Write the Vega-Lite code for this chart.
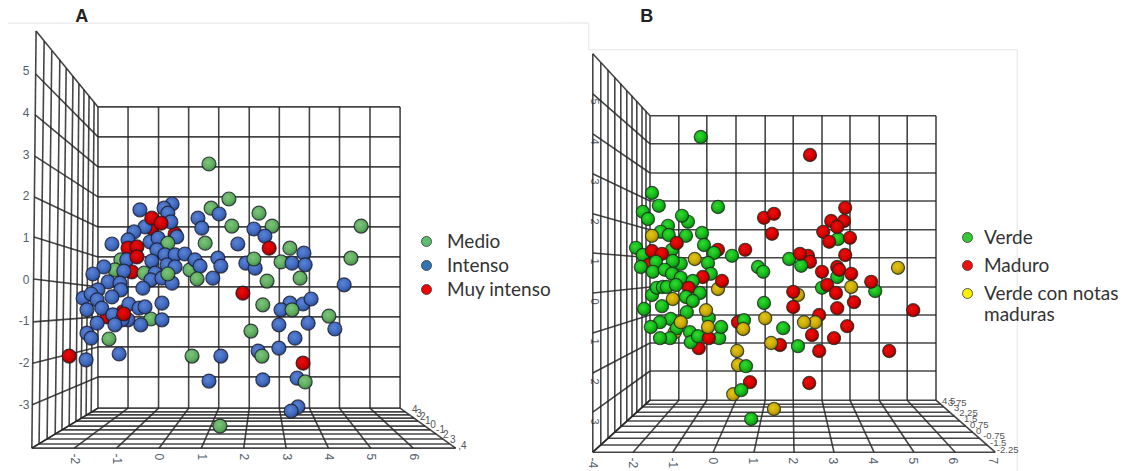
{
"$schema":"https://vega.github.io/schema/vega-lite/v6.json",
"padding":0,"spacing":0,"bounds":"flush",
"config":{"view":{"stroke":null},"background":"white"},
"resolve":{"scale":{"color":"independent","x":"independent","y":"independent"},"legend":{"color":"independent"}},
"datasets":{
"aFrame":[{"x":-3.56,"y":6.14,"x2":9.51,"y2":6.14}],
"bFrame":[{"x":-3.75,"y":6.95,"x2":-3.08,"y2":6.95},{"x":-3.08,"y":6.95,"x2":-3.08,"y2":6.28},{"x":-3.08,"y":6.28,"x2":7.63,"y2":6.28},{"x":7.63,"y":6.28,"x2":7.63,"y2":-4.25}],
"aGrid":[
{"x":-1.44,"y":4.13,"x2":-1.44,"y2":-3.10},{"x":-0.73,"y":4.13,"x2":-0.73,"y2":-3.10},{"x":-0.01,"y":4.13,"x2":-0.01,"y2":-3.10},{"x":0.70,"y":4.13,"x2":0.70,"y2":-3.10},{"x":1.41,"y":4.13,"x2":1.41,"y2":-3.10},{"x":2.13,"y":4.13,"x2":2.13,"y2":-3.10},{"x":2.84,"y":4.13,"x2":2.84,"y2":-3.10},{"x":3.55,"y":4.13,"x2":3.55,"y2":-3.10},{"x":4.26,"y":4.13,"x2":4.26,"y2":-3.10},{"x":4.98,"y":4.13,"x2":4.98,"y2":-3.10},{"x":5.69,"y":4.13,"x2":5.69,"y2":-3.10},
{"x":-1.44,"y":4.13,"x2":5.69,"y2":4.13},{"x":-1.44,"y":3.41,"x2":5.69,"y2":3.41},{"x":-1.44,"y":2.69,"x2":5.69,"y2":2.69},{"x":-1.44,"y":1.97,"x2":5.69,"y2":1.97},{"x":-1.44,"y":1.25,"x2":5.69,"y2":1.25},{"x":-1.44,"y":0.53,"x2":5.69,"y2":0.53},{"x":-1.44,"y":-0.19,"x2":5.69,"y2":-0.19},{"x":-1.44,"y":-0.91,"x2":5.69,"y2":-0.91},{"x":-1.44,"y":-1.63,"x2":5.69,"y2":-1.63},{"x":-1.44,"y":-2.35,"x2":5.69,"y2":-2.35},{"x":-1.44,"y":-3.10,"x2":5.69,"y2":-3.10},
{"x":-2.90,"y":5.95,"x2":-1.44,"y2":4.13},{"x":-2.91,"y":4.92,"x2":-1.44,"y2":3.41},{"x":-2.92,"y":3.94,"x2":-1.44,"y2":2.69},{"x":-2.93,"y":2.95,"x2":-1.44,"y2":1.97},{"x":-2.94,"y":1.97,"x2":-1.44,"y2":1.25},{"x":-2.95,"y":1.01,"x2":-1.44,"y2":0.53},{"x":-2.96,"y":0,"x2":-1.44,"y2":-0.19},{"x":-2.97,"y":-1.03,"x2":-1.44,"y2":-0.91},{"x":-2.98,"y":-2.02,"x2":-1.44,"y2":-1.63},{"x":-2.99,"y":-3.02,"x2":-1.44,"y2":-2.35},{"x":-3.0,"y":-4.06,"x2":-1.44,"y2":-3.10},
{"x":-2.90,"y":5.95,"x2":-3.0,"y2":-4.06},{"x":-2.71,"y":5.71,"x2":-2.83,"y2":-3.96},{"x":-2.53,"y":5.47,"x2":-2.64,"y2":-3.84},{"x":-2.34,"y":5.26,"x2":-2.45,"y2":-3.72},{"x":-2.19,"y":5.06,"x2":-2.29,"y2":-3.62},{"x":-2.03,"y":4.87,"x2":-2.12,"y2":-3.53},{"x":-1.89,"y":4.68,"x2":-1.96,"y2":-3.41},{"x":-1.77,"y":4.54,"x2":-1.84,"y2":-3.34},{"x":-1.65,"y":4.39,"x2":-1.72,"y2":-3.26},{"x":-1.53,"y":4.25,"x2":-1.60,"y2":-3.19},
{"x":-3,"y":-4.06,"x2":-1.44,"y2":-3.10},{"x":-2,"y":-4.06,"x2":-0.73,"y2":-3.10},{"x":-1,"y":-4.06,"x2":-0.01,"y2":-3.10},{"x":0,"y":-4.06,"x2":0.70,"y2":-3.10},{"x":1,"y":-4.06,"x2":1.41,"y2":-3.10},{"x":2,"y":-4.06,"x2":2.13,"y2":-3.10},{"x":3,"y":-4.06,"x2":2.84,"y2":-3.10},{"x":4,"y":-4.06,"x2":3.55,"y2":-3.10},{"x":5,"y":-4.06,"x2":4.26,"y2":-3.10},{"x":6,"y":-4.06,"x2":4.98,"y2":-3.10},{"x":7,"y":-4.06,"x2":5.69,"y2":-3.10},
{"x":-3.0,"y":-4.06,"x2":7,"y2":-4.06},{"x":-2.83,"y":-3.96,"x2":6.86,"y2":-3.96},{"x":-2.64,"y":-3.84,"x2":6.70,"y2":-3.84},{"x":-2.45,"y":-3.72,"x2":6.54,"y2":-3.72},{"x":-2.29,"y":-3.62,"x2":6.40,"y2":-3.62},{"x":-2.12,"y":-3.53,"x2":6.28,"y2":-3.53},{"x":-1.96,"y":-3.41,"x2":6.11,"y2":-3.41},{"x":-1.84,"y":-3.34,"x2":6.02,"y2":-3.34},{"x":-1.72,"y":-3.26,"x2":5.91,"y2":-3.26},{"x":-1.60,"y":-3.19,"x2":5.81,"y2":-3.19}
],
"bGrid":[
{"x":-1.55,"y":4.63,"x2":-1.55,"y2":-2.48},{"x":-0.83,"y":4.63,"x2":-0.83,"y2":-2.48},{"x":-0.13,"y":4.63,"x2":-0.13,"y2":-2.48},{"x":0.60,"y":4.63,"x2":0.60,"y2":-2.48},{"x":1.33,"y":4.63,"x2":1.33,"y2":-2.48},{"x":2.03,"y":4.63,"x2":2.03,"y2":-2.48},{"x":2.75,"y":4.63,"x2":2.75,"y2":-2.48},{"x":3.45,"y":4.63,"x2":3.45,"y2":-2.48},{"x":4.18,"y":4.63,"x2":4.18,"y2":-2.48},{"x":4.88,"y":4.63,"x2":4.88,"y2":-2.48},{"x":5.60,"y":4.63,"x2":5.60,"y2":-2.48},
{"x":-1.55,"y":4.63,"x2":5.60,"y2":4.63},{"x":-1.55,"y":3.93,"x2":5.60,"y2":3.93},{"x":-1.55,"y":3.20,"x2":5.60,"y2":3.20},{"x":-1.55,"y":2.50,"x2":5.60,"y2":2.50},{"x":-1.55,"y":1.78,"x2":5.60,"y2":1.78},{"x":-1.55,"y":1.08,"x2":5.60,"y2":1.08},{"x":-1.55,"y":0.35,"x2":5.60,"y2":0.35},{"x":-1.55,"y":-0.35,"x2":5.60,"y2":-0.35},{"x":-1.55,"y":-1.05,"x2":5.60,"y2":-1.05},{"x":-1.55,"y":-1.75,"x2":5.60,"y2":-1.75},{"x":-1.55,"y":-2.48,"x2":5.60,"y2":-2.48},
{"x":-2.98,"y":6.18,"x2":-1.55,"y2":4.63},{"x":-2.98,"y":5.18,"x2":-1.55,"y2":3.93},{"x":-2.98,"y":4.18,"x2":-1.55,"y2":3.20},{"x":-2.98,"y":3.18,"x2":-1.55,"y2":2.50},{"x":-2.98,"y":2.18,"x2":-1.55,"y2":1.78},{"x":-2.98,"y":1.20,"x2":-1.55,"y2":1.08},{"x":-2.98,"y":0.20,"x2":-1.55,"y2":0.35},{"x":-2.98,"y":-0.80,"x2":-1.55,"y2":-0.35},{"x":-2.98,"y":-1.80,"x2":-1.55,"y2":-1.05},{"x":-2.98,"y":-2.78,"x2":-1.55,"y2":-1.75},{"x":-2.98,"y":-3.78,"x2":-1.55,"y2":-2.48},
{"x":-2.98,"y":6.18,"x2":-2.98,"y2":-3.78},{"x":-2.78,"y":5.95,"x2":-2.78,"y2":-3.60},{"x":-2.60,"y":5.78,"x2":-2.60,"y2":-3.43},{"x":-2.43,"y":5.58,"x2":-2.43,"y2":-3.28},{"x":-2.28,"y":5.43,"x2":-2.28,"y2":-3.13},{"x":-2.13,"y":5.25,"x2":-2.13,"y2":-3.00},{"x":-2.00,"y":5.13,"x2":-2.00,"y2":-2.88},{"x":-1.88,"y":5.00,"x2":-1.88,"y2":-2.78},{"x":-1.75,"y":4.85,"x2":-1.75,"y2":-2.65},{"x":-1.65,"y":4.75,"x2":-1.65,"y2":-2.58},
{"x":-2.98,"y":-3.78,"x2":-1.55,"y2":-2.48},{"x":-1.97,"y":-3.78,"x2":-0.83,"y2":-2.48},{"x":-0.98,"y":-3.78,"x2":-0.13,"y2":-2.48},{"x":0.03,"y":-3.78,"x2":0.60,"y2":-2.48},{"x":1.05,"y":-3.78,"x2":1.33,"y2":-2.48},{"x":2.05,"y":-3.78,"x2":2.03,"y2":-2.48},{"x":3.05,"y":-3.78,"x2":2.75,"y2":-2.48},{"x":4.05,"y":-3.78,"x2":3.45,"y2":-2.48},{"x":5.05,"y":-3.78,"x2":4.18,"y2":-2.48},{"x":6.08,"y":-3.78,"x2":4.88,"y2":-2.48},{"x":7.08,"y":-3.78,"x2":5.60,"y2":-2.48},
{"x":-2.98,"y":-3.78,"x2":7.08,"y2":-3.78},{"x":-2.78,"y":-3.60,"x2":6.88,"y2":-3.60},{"x":-2.60,"y":-3.43,"x2":6.68,"y2":-3.43},{"x":-2.43,"y":-3.28,"x2":6.51,"y2":-3.28},{"x":-2.28,"y":-3.13,"x2":6.34,"y2":-3.13},{"x":-2.13,"y":-3.00,"x2":6.19,"y2":-3.00},{"x":-2.00,"y":-2.88,"x2":6.06,"y2":-2.88},{"x":-1.88,"y":-2.78,"x2":5.94,"y2":-2.78},{"x":-1.75,"y":-2.65,"x2":5.79,"y2":-2.65},{"x":-1.65,"y":-2.58,"x2":5.71,"y2":-2.58}
],
"aDepth":[{"x":5.97,"y":-3.14,"t":"4"},{"x":6.07,"y":-3.24,"t":"3"},{"x":6.16,"y":-3.31,"t":"2"},{"x":6.28,"y":-3.41,"t":"1"},{"x":6.40,"y":-3.50,"t":"0"},{"x":6.54,"y":-3.62,"t":"-1"},{"x":6.70,"y":-3.74,"t":"2"},{"x":6.87,"y":-3.86,"t":"3"},{"x":7.06,"y":-4.01,"t":",4"}],
"bDepth":[{"x":5.75,"y":-2.50,"t":"4.5"},{"x":5.90,"y":-2.55,"t":"3.75"},{"x":6.05,"y":-2.68,"t":"3"},{"x":6.18,"y":-2.80,"t":"2.25"},{"x":6.30,"y":-2.95,"t":"1.5"},{"x":6.45,"y":-3.10,"t":"0.75"},{"x":6.60,"y":-3.25,"t":"0"},{"x":6.78,"y":-3.38,"t":"-0.75"},{"x":6.95,"y":-3.55,"t":"-1.5"},{"x":7.12,"y":-3.72,"t":"-2.25"}],
"aLetter":[{"x":-1.82,"y":6.29,"t":"A"}],
"bLetter":[{"x":-1.63,"y":7.10,"t":"B"}],
"aPoints":[
{"x":-0.90,"y":0.46,"s":"Medio"},{"x":-1.04,"y":0.22,"s":"Medio"},{"x":-0.64,"y":0.17,"s":"Muy intenso"},{"x":-1.23,"y":-0.91,"s":"Muy intenso"},{"x":-0.85,"y":-0.79,"s":"Muy intenso"},{"x":0.38,"y":1.08,"s":"Muy intenso"},{"x":-0.17,"y":1.22,"s":"Muy intenso"},{"x":0.73,"y":0.22,"s":"Medio"},{"x":-1.18,"y":-1.44,"s":"Medio"},{"x":-0.19,"y":-0.96,"s":"Medio"},
{"x":-0.45,"y":1.66,"s":"Intenso"},{"x":0.31,"y":1.80,"s":"Intenso"},{"x":0.12,"y":1.70,"s":"Intenso"},{"x":0.21,"y":1.58,"s":"Intenso"},{"x":0.28,"y":1.37,"s":"Intenso"},{"x":-0.33,"y":1.25,"s":"Intenso"},{"x":-0.17,"y":1.46,"s":"Muy intenso"},{"x":0.05,"y":1.34,"s":"Muy intenso"},{"x":-0.59,"y":1.13,"s":"Intenso"},{"x":-0.21,"y":0.89,"s":"Intenso"},{"x":-0.73,"y":0.94,"s":"Intenso"},{"x":-1.11,"y":0.84,"s":"Intenso"},{"x":-0.02,"y":0.98,"s":"Intenso"},{"x":0.42,"y":1.01,"s":"Intenso"},{"x":0.21,"y":0.86,"s":"Medio"},{"x":-0.73,"y":0.74,"s":"Muy intenso"},{"x":-0.52,"y":0.77,"s":"Muy intenso"},{"x":-0.05,"y":0.70,"s":"Intenso"},{"x":0.14,"y":0.58,"s":"Intenso"},{"x":0.38,"y":0.58,"s":"Intenso"},{"x":-0.76,"y":0.46,"s":"Intenso"},{"x":-0.52,"y":0.53,"s":"Muy intenso"},{"x":-0.17,"y":0.43,"s":"Intenso"},{"x":0.19,"y":0.34,"s":"Intenso"},{"x":0.38,"y":0.29,"s":"Intenso"},{"x":0.61,"y":0.60,"s":"Intenso"},{"x":0.85,"y":0.46,"s":"Intenso"},{"x":0.97,"y":0.31,"s":"Intenso"},{"x":1.39,"y":0.50,"s":"Intenso"},{"x":1.46,"y":0.31,"s":"Intenso"},{"x":0.90,"y":0,"s":"Medio"},{"x":1.27,"y":0.02,"s":"Intenso"},{"x":-1.30,"y":0.29,"s":"Intenso"},{"x":-1.56,"y":0.12,"s":"Intenso"},{"x":-0.83,"y":0.19,"s":"Intenso"},{"x":-1.20,"y":-0.07,"s":"Intenso"},{"x":-0.92,"y":-0.10,"s":"Intenso"},{"x":-0.90,"y":-0.26,"s":"Intenso"},{"x":-0.35,"y":0.14,"s":"Medio"},{"x":-0.09,"y":0.14,"s":"Intenso"},{"x":-0.19,"y":-0.02,"s":"Intenso"},{"x":-0.38,"y":-0.22,"s":"Intenso"},{"x":0.07,"y":0.02,"s":"Intenso"},{"x":0.31,"y":-0.10,"s":"Intenso"},{"x":0.21,"y":0.12,"s":"Medio"},{"x":-1.44,"y":-0.26,"s":"Intenso"},{"x":-1.79,"y":-0.46,"s":"Intenso"},{"x":-1.60,"y":-0.36,"s":"Intenso"},{"x":-1.46,"y":-0.50,"s":"Intenso"},{"x":-1.11,"y":-0.43,"s":"Intenso"},{"x":-1.70,"y":-0.74,"s":"Intenso"},{"x":-1.35,"y":-0.70,"s":"Intenso"},{"x":-0.71,"y":-0.60,"s":"Intenso"},{"x":-0.47,"y":-0.70,"s":"Intenso"},{"x":-0.33,"y":-0.67,"s":"Intenso"},{"x":0.07,"y":-0.58,"s":"Intenso"},{"x":-1.09,"y":-0.86,"s":"Intenso"},{"x":-0.73,"y":-0.98,"s":"Intenso"},{"x":-0.87,"y":-0.98,"s":"Intenso"},{"x":-0.83,"y":-0.84,"s":"Muy intenso"},{"x":-1.04,"y":-1.10,"s":"Intenso"},{"x":-1.46,"y":-1.06,"s":"Intenso"},{"x":-1.70,"y":-1.30,"s":"Intenso"},{"x":-1.60,"y":-1.42,"s":"Intenso"},{"x":-0.43,"y":-1.10,"s":"Intenso"},{"x":0.07,"y":-0.98,"s":"Intenso"},{"x":-2.12,"y":-1.85,"s":"Muy intenso"},{"x":-1.72,"y":-1.94,"s":"Intenso"},{"x":-0.94,"y":-1.80,"s":"Intenso"},{"x":0.78,"y":-1.85,"s":"Medio"},{"x":1.46,"y":-1.85,"s":"Intenso"},{"x":1.18,"y":-2.45,"s":"Intenso"},{"x":1.44,"y":-3.53,"s":"Medio"},
{"x":1.18,"y":2.76,"s":"Medio"},{"x":1.65,"y":1.92,"s":"Medio"},{"x":1.23,"y":1.70,"s":"Medio"},{"x":1.42,"y":1.56,"s":"Intenso"},{"x":2.36,"y":1.58,"s":"Medio"},{"x":1.72,"y":1.27,"s":"Medio"},{"x":0.92,"y":1.46,"s":"Intenso"},{"x":1.01,"y":1.22,"s":"Intenso"},{"x":2.24,"y":1.20,"s":"Intenso"},{"x":2.67,"y":1.27,"s":"Medio"},{"x":2.50,"y":1.03,"s":"Intenso"},{"x":1.09,"y":0.86,"s":"Medio"},{"x":1.86,"y":0.84,"s":"Intenso"},{"x":2.60,"y":0.74,"s":"Muy intenso"},{"x":3.09,"y":0.74,"s":"Medio"},{"x":2.05,"y":0.38,"s":"Intenso"},{"x":2.27,"y":0.26,"s":"Intenso"},{"x":2.24,"y":0.48,"s":"Medio"},{"x":2.88,"y":0.41,"s":"Medio"},{"x":3.14,"y":0.38,"s":"Intenso"},{"x":3.42,"y":0.62,"s":"Intenso"},{"x":3.45,"y":0.34,"s":"Intenso"},{"x":3.33,"y":0.02,"s":"Medio"},{"x":2.55,"y":-0.05,"s":"Medio"},{"x":1.98,"y":-0.34,"s":"Muy intenso"},{"x":2.45,"y":-0.62,"s":"Medio"},{"x":3.09,"y":-0.58,"s":"Intenso"},{"x":3.40,"y":-0.60,"s":"Intenso"},{"x":3.59,"y":-0.48,"s":"Intenso"},{"x":2.88,"y":-0.74,"s":"Intenso"},{"x":3.14,"y":-0.74,"s":"Medio"},{"x":2.83,"y":-1.10,"s":"Intenso"},{"x":3.52,"y":-1.06,"s":"Intenso"},{"x":2.17,"y":-1.25,"s":"Medio"},{"x":3.21,"y":-1.42,"s":"Intenso"},{"x":2.83,"y":-1.66,"s":"Intenso"},{"x":2.34,"y":-1.73,"s":"Intenso"},{"x":2.43,"y":-1.85,"s":"Medio"},{"x":3.40,"y":-2.02,"s":"Muy intenso"},{"x":2.45,"y":-2.42,"s":"Intenso"},{"x":3.26,"y":-2.38,"s":"Intenso"},{"x":3.45,"y":-2.47,"s":"Medio"},{"x":3.28,"y":-3.07,"s":"Intenso"},{"x":3.12,"y":-3.17,"s":"Intenso"},{"x":4.77,"y":1.27,"s":"Medio"},{"x":4.53,"y":0.50,"s":"Medio"},{"x":4.37,"y":-0.14,"s":"Intenso"},{"x":4.01,"y":-0.89,"s":"Medio"},{"x":4.15,"y":-1.20,"s":"Intenso"}
],
"bPoints":[
{"x":-0.28,"y":4.10,"s":"Verde"},{"x":2.45,"y":3.65,"s":"Maduro"},{"x":-1.50,"y":2.70,"s":"Verde"},{"x":-1.33,"y":2.38,"s":"Verde"},{"x":0.15,"y":2.35,"s":"Verde"},{"x":-1.73,"y":2.23,"s":"Verde"},{"x":-1.60,"y":2.05,"s":"Verde"},{"x":-0.60,"y":1.98,"s":"Verde"},{"x":-0.75,"y":2.13,"s":"Verde"},{"x":-1.10,"y":1.88,"s":"Verde"},{"x":-1.28,"y":1.73,"s":"Verde"},{"x":-1.50,"y":1.63,"s":"Verde con notas maduras"},{"x":-1.08,"y":1.65,"s":"Verde"},{"x":-0.65,"y":1.63,"s":"Verde"},{"x":-0.25,"y":1.70,"s":"Verde"},{"x":-0.20,"y":1.40,"s":"Verde"},{"x":-1.00,"y":1.28,"s":"Verde"},{"x":-0.88,"y":1.45,"s":"Maduro"},{"x":0.15,"y":1.28,"s":"Maduro"},{"x":0.05,"y":1.20,"s":"Verde"},{"x":0.50,"y":1.13,"s":"Verde"},{"x":0.83,"y":1.28,"s":"Maduro"},{"x":-0.10,"y":0.95,"s":"Verde"},{"x":-0.43,"y":1.05,"s":"Verde con notas maduras"},{"x":-1.90,"y":1.33,"s":"Verde"},{"x":-1.73,"y":1.15,"s":"Verde"},{"x":-1.58,"y":0.90,"s":"Maduro"},{"x":-1.78,"y":0.85,"s":"Verde"},{"x":-1.50,"y":1.25,"s":"Maduro"},{"x":-1.25,"y":1.18,"s":"Maduro"},{"x":-1.40,"y":0.98,"s":"Verde"},{"x":-0.78,"y":0.93,"s":"Verde"},{"x":-0.98,"y":1.00,"s":"Verde"},{"x":-1.48,"y":0.73,"s":"Verde"},{"x":-1.18,"y":0.78,"s":"Verde"},{"x":-1.00,"y":0.68,"s":"Verde"},{"x":-0.03,"y":0.68,"s":"Verde"},{"x":-0.23,"y":0.60,"s":"Maduro"},{"x":0.15,"y":0.30,"s":"Verde con notas maduras"},{"x":0.25,"y":0.50,"s":"Maduro"},{"x":-0.78,"y":0.58,"s":"Verde"},{"x":-0.48,"y":0.50,"s":"Verde"},{"x":-0.58,"y":0.33,"s":"Maduro"},{"x":-1.50,"y":0.15,"s":"Verde"},{"x":-1.38,"y":0.33,"s":"Verde"},{"x":-1.23,"y":0.35,"s":"Verde"},{"x":-1.13,"y":0.35,"s":"Verde"},{"x":-0.90,"y":0.40,"s":"Verde"},{"x":-0.65,"y":0.10,"s":"Verde"},{"x":-0.30,"y":0.20,"s":"Verde"},{"x":-0.48,"y":0,"s":"Verde"},{"x":-0.98,"y":0.05,"s":"Verde con notas maduras"},{"x":-1.25,"y":-0.13,"s":"Verde"},{"x":-1.70,"y":-0.20,"s":"Verde"},{"x":-0.63,"y":-0.28,"s":"Verde"},{"x":-0.08,"y":-0.43,"s":"Verde"},{"x":-0.15,"y":-0.23,"s":"Verde con notas maduras"},{"x":-1.03,"y":-0.45,"s":"Verde"},{"x":-1.30,"y":-0.53,"s":"Verde"},{"x":-1.53,"y":-0.65,"s":"Verde"},{"x":-0.93,"y":-0.78,"s":"Verde con notas maduras"},{"x":-0.88,"y":-0.68,"s":"Verde"},{"x":-0.78,"y":-0.53,"s":"Verde con notas maduras"},{"x":-1.05,"y":-0.93,"s":"Verde"},{"x":-1.30,"y":-0.93,"s":"Verde"},{"x":-0.33,"y":-1.18,"s":"Maduro"},{"x":-0.55,"y":-0.78,"s":"Verde"},{"x":-0.53,"y":-1.03,"s":"Verde"},{"x":-0.35,"y":-0.88,"s":"Verde"},{"x":0.18,"y":-0.93,"s":"Verde"},{"x":0.23,"y":-0.65,"s":"Verde"},{"x":-0.08,"y":-0.93,"s":"Maduro"},{"x":-0.10,"y":-0.65,"s":"Verde con notas maduras"},{"x":0.65,"y":-0.53,"s":"Maduro"},{"x":0.80,"y":-0.48,"s":"Verde"},{"x":0.78,"y":-0.70,"s":"Verde con notas maduras"},{"x":1.15,"y":0.85,"s":"Verde"},{"x":1.28,"y":0.73,"s":"Verde"},{"x":1.30,"y":-0.05,"s":"Verde"},{"x":1.33,"y":-0.43,"s":"Verde con notas maduras"},{"x":0.63,"y":-1.25,"s":"Verde con notas maduras"},{"x":0.65,"y":-1.60,"s":"Verde con notas maduras"},{"x":0.85,"y":-1.63,"s":"Verde"},{"x":0.95,"y":-2.03,"s":"Maduro"},{"x":0.53,"y":-2.33,"s":"Verde con notas maduras"},{"x":0.73,"y":-2.23,"s":"Verde"},{"x":1.55,"y":-2.70,"s":"Verde con notas maduras"},{"x":0.98,"y":-2.95,"s":"Verde"},{"x":2.43,"y":-2.05,"s":"Maduro"},{"x":1.70,"y":-1.10,"s":"Maduro"},{"x":1.48,"y":-1.05,"s":"Verde con notas maduras"},{"x":2.15,"y":-1.13,"s":"Verde"},{"x":2.68,"y":-1.25,"s":"Maduro"},{"x":1.78,"y":-0.68,"s":"Verde"},{"x":2.50,"y":-0.85,"s":"Maduro"},{"x":3.05,"y":-0.93,"s":"Maduro"},{"x":2.68,"y":-0.35,"s":"Maduro"},{"x":2.58,"y":-0.53,"s":"Verde con notas maduras"},{"x":2.30,"y":-0.53,"s":"Verde con notas maduras"},{"x":3.38,"y":-0.63,"s":"Maduro"},{"x":2.15,"y":0.15,"s":"Verde con notas maduras"},{"x":2.03,"y":0.23,"s":"Maduro"},{"x":2.03,"y":-0.15,"s":"Maduro"},{"x":1.30,"y":2.08,"s":"Maduro"},{"x":1.55,"y":2.18,"s":"Maduro"},{"x":1.50,"y":1.68,"s":"Maduro"},{"x":3.33,"y":2.33,"s":"Maduro"},{"x":3.30,"y":2.00,"s":"Maduro"},{"x":2.98,"y":2.00,"s":"Maduro"},{"x":3.15,"y":1.55,"s":"Verde"},{"x":3.13,"y":1.85,"s":"Maduro"},{"x":2.78,"y":1.73,"s":"Maduro"},{"x":2.93,"y":1.48,"s":"Maduro"},{"x":3.45,"y":1.58,"s":"Maduro"},{"x":1.93,"y":1.05,"s":"Verde"},{"x":2.40,"y":1.13,"s":"Maduro"},{"x":2.45,"y":0.98,"s":"Maduro"},{"x":2.23,"y":0.88,"s":"Verde"},{"x":2.20,"y":1.18,"s":"Maduro"},{"x":3.33,"y":1.15,"s":"Maduro"},{"x":3.13,"y":0.60,"s":"Verde"},{"x":3.13,"y":0.85,"s":"Maduro"},{"x":3.18,"y":0.78,"s":"Maduro"},{"x":2.75,"y":0.73,"s":"Maduro"},{"x":3.48,"y":0.68,"s":"Maduro"},{"x":2.75,"y":0.33,"s":"Verde"},{"x":2.88,"y":0.40,"s":"Maduro"},{"x":3.10,"y":0.20,"s":"Maduro"},{"x":3.48,"y":0.35,"s":"Verde con notas maduras"},{"x":3.55,"y":-0.03,"s":"Maduro"},{"x":3.13,"y":-0.18,"s":"Maduro"},{"x":4.08,"y":0.25,"s":"Verde"},{"x":3.98,"y":0.48,"s":"Maduro"},{"x":4.65,"y":0.83,"s":"Verde con notas maduras"},{"x":5.03,"y":-0.23,"s":"Maduro"},{"x":4.43,"y":-1.25,"s":"Maduro"}
]
},
"hconcat":[
{"width":562,"height":471,"layer":[
{"data":{"name":"aFrame"},"mark":{"type":"rule","stroke":"#e4e4e4","strokeWidth":1},
"encoding":{
"x":{"field":"x","type":"quantitative","scale":{"domain":[-3.752,9.511],"nice":false,"zero":false},
"axis":{"title":null,"grid":false,"domain":false,"ticks":false,"values":[-2,-1,0,1,2,3,4,5,6],"labelExpr":"''+datum.value","labelAngle":90,"labelAlign":"left","labelBaseline":"middle","labelPadding":0,"offset":-18,"labelColor":"#54606c","labelFontSize":12,"labelFont":"Liberation Sans"}},
"y":{"field":"y","type":"quantitative","scale":{"domain":[-4.608,6.696],"nice":false,"zero":false},
"axis":{"title":null,"grid":false,"domain":false,"ticks":false,"values":[-3,-2,-1,0,1,2,3,4,5],"labelExpr":"''+datum.value","orient":"left","offset":-29,"labelPadding":0,"labelColor":"#54606c","labelFontSize":12,"labelFont":"Liberation Sans"}},
"x2":{"field":"x2"},"y2":{"field":"y2"}}},
{"data":{"name":"aGrid"},"mark":{"type":"rule","stroke":"#262626","strokeWidth":1.6,"opacity":0.85},
"encoding":{"x":{"field":"x","type":"quantitative"},"y":{"field":"y","type":"quantitative"},"x2":{"field":"x2"},"y2":{"field":"y2"}}},
{"data":{"name":"aDepth"},"mark":{"type":"text","align":"left","baseline":"middle","fontSize":10,"font":"Liberation Sans","color":"#555"},
"encoding":{"x":{"field":"x","type":"quantitative"},"y":{"field":"y","type":"quantitative"},"text":{"field":"t"}}},
{"data":{"name":"aLetter"},"mark":{"type":"text","align":"center","baseline":"middle","fontSize":18,"fontWeight":"bold","font":"Liberation Sans","color":"#222"},
"encoding":{"x":{"field":"x","type":"quantitative"},"y":{"field":"y","type":"quantitative"},"text":{"field":"t"}}},
{"data":{"name":"aPoints"},"mark":{"type":"circle","opacity":1,"size":100},
"encoding":{"x":{"field":"x","type":"quantitative"},"y":{"field":"y","type":"quantitative"},
"color":{"field":"s","type":"nominal","scale":{"domain":["Medio","Intenso","Muy intenso"],"range":["#5dbd70","#2f74b5","#f00000"]},
"legend":{"title":null,"orient":"none","legendX":417,"legendY":232,"padding":0,"symbolSize":100,"symbolStrokeColor":"#333","symbolStrokeWidth":0.8,"labelFont":"Lato","labelFontSize":19,"labelColor":"#333","labelOffset":11,"rowPadding":4,"symbolType":"circle"}}}},
{"data":{"name":"aPoints"},"mark":{"type":"circle","opacity":1,"size":196,"stroke":"#1c1c2a","strokeWidth":1.2,"strokeOpacity":0.8},
"encoding":{"x":{"field":"x","type":"quantitative"},"y":{"field":"y","type":"quantitative"},
"fill":{"condition":[
{"test":"datum.s==='Medio'","value":{"gradient":"radial","x1":0.42,"y1":0.38,"r1":0,"x2":0.42,"y2":0.38,"r2":0.68,"stops":[{"offset":0,"color":"#7cc77a"},{"offset":0.6,"color":"#5fab5f"},{"offset":1,"color":"#3b7d3d"}]}},
{"test":"datum.s==='Intenso'","value":{"gradient":"radial","x1":0.42,"y1":0.38,"r1":0,"x2":0.42,"y2":0.38,"r2":0.68,"stops":[{"offset":0,"color":"#5a84d8"},{"offset":0.6,"color":"#3f68bd"},{"offset":1,"color":"#26427f"}]}}],
"value":{"gradient":"radial","x1":0.42,"y1":0.38,"r1":0,"x2":0.42,"y2":0.38,"r2":0.68,"stops":[{"offset":0,"color":"#ee0c0c"},{"offset":0.6,"color":"#c90000"},{"offset":1,"color":"#7c0000"}]}}}}
]},
{"width":562,"height":471,"layer":[
{"data":{"name":"bFrame"},"mark":{"type":"rule","stroke":"#e4e4e4","strokeWidth":1},
"encoding":{
"x":{"field":"x","type":"quantitative","scale":{"domain":[-3.75,10.3],"nice":false,"zero":false},
"axis":{"title":null,"grid":false,"domain":false,"ticks":false,"values":[-3,-2,-1,0,1,2,3,4,5,6,7],"labelExpr":"datum.value==-3?'-4':''+datum.value","labelAngle":90,"labelAlign":"left","labelBaseline":"middle","labelPadding":0,"offset":-14,"labelColor":"#54606c","labelFontSize":12,"labelFont":"Liberation Sans"}},
"y":{"field":"y","type":"quantitative","scale":{"domain":[-4.25,7.525],"nice":false,"zero":false},
"axis":{"title":null,"grid":false,"domain":false,"ticks":false,"values":[-3,-2,-1,0,1,2,3,4,5],"labelExpr":"''+abs(datum.value)","labelAngle":90,"labelAlign":"center","labelBaseline":"middle","orient":"left","offset":-31,"labelPadding":0,"labelColor":"#54606c","labelFontSize":11,"labelFont":"Liberation Sans"}},
"x2":{"field":"x2"},"y2":{"field":"y2"}}},
{"data":{"name":"bGrid"},"mark":{"type":"rule","stroke":"#262626","strokeWidth":1.6,"opacity":0.85},
"encoding":{"x":{"field":"x","type":"quantitative"},"y":{"field":"y","type":"quantitative"},"x2":{"field":"x2"},"y2":{"field":"y2"}}},
{"data":{"name":"bDepth"},"mark":{"type":"text","align":"left","baseline":"middle","fontSize":9.5,"font":"Liberation Sans","color":"#555"},
"encoding":{"x":{"field":"x","type":"quantitative"},"y":{"field":"y","type":"quantitative"},"text":{"field":"t"}}},
{"data":{"name":"bLetter"},"mark":{"type":"text","align":"center","baseline":"middle","fontSize":18,"fontWeight":"bold","font":"Liberation Sans","color":"#222"},
"encoding":{"x":{"field":"x","type":"quantitative"},"y":{"field":"y","type":"quantitative"},"text":{"field":"t"}}},
{"data":{"name":"bPoints"},"mark":{"type":"circle","opacity":1,"size":100},
"encoding":{"x":{"field":"x","type":"quantitative"},"y":{"field":"y","type":"quantitative"},
"color":{"field":"s","type":"nominal","scale":{"domain":["Verde","Maduro","Verde con notas maduras"],"range":["#35c935","#ee1111","#ffee00"]},
"legend":{"title":null,"orient":"none","legendX":396,"legendY":228,"padding":0,"symbolSize":100,"symbolStrokeColor":"#333","symbolStrokeWidth":0.8,"labelFont":"Lato","labelFontSize":19,"labelColor":"#333","labelOffset":7,"rowPadding":8,"symbolType":"circle","labelLimit":300,"labelExpr":"datum.label=='Verde con notas maduras'?['Verde con notas','maduras']:datum.label"}}}},
{"data":{"name":"bPoints"},"mark":{"type":"circle","opacity":1,"size":172,"stroke":"#1c2a1c","strokeWidth":1.2,"strokeOpacity":0.8},
"encoding":{"x":{"field":"x","type":"quantitative"},"y":{"field":"y","type":"quantitative"},
"fill":{"condition":[
{"test":"datum.s==='Verde'","value":{"gradient":"radial","x1":0.42,"y1":0.38,"r1":0,"x2":0.42,"y2":0.38,"r2":0.68,"stops":[{"offset":0,"color":"#2ee02e"},{"offset":0.6,"color":"#15b41a"},{"offset":1,"color":"#0a7210"}]}},
{"test":"datum.s==='Maduro'","value":{"gradient":"radial","x1":0.42,"y1":0.38,"r1":0,"x2":0.42,"y2":0.38,"r2":0.68,"stops":[{"offset":0,"color":"#f20d0d"},{"offset":0.6,"color":"#d00000"},{"offset":1,"color":"#800000"}]}}],
"value":{"gradient":"radial","x1":0.42,"y1":0.38,"r1":0,"x2":0.42,"y2":0.38,"r2":0.68,"stops":[{"offset":0,"color":"#e5c610"},{"offset":0.6,"color":"#c7a808"},{"offset":1,"color":"#7d6a00"}]}}}}
]}
]
}
